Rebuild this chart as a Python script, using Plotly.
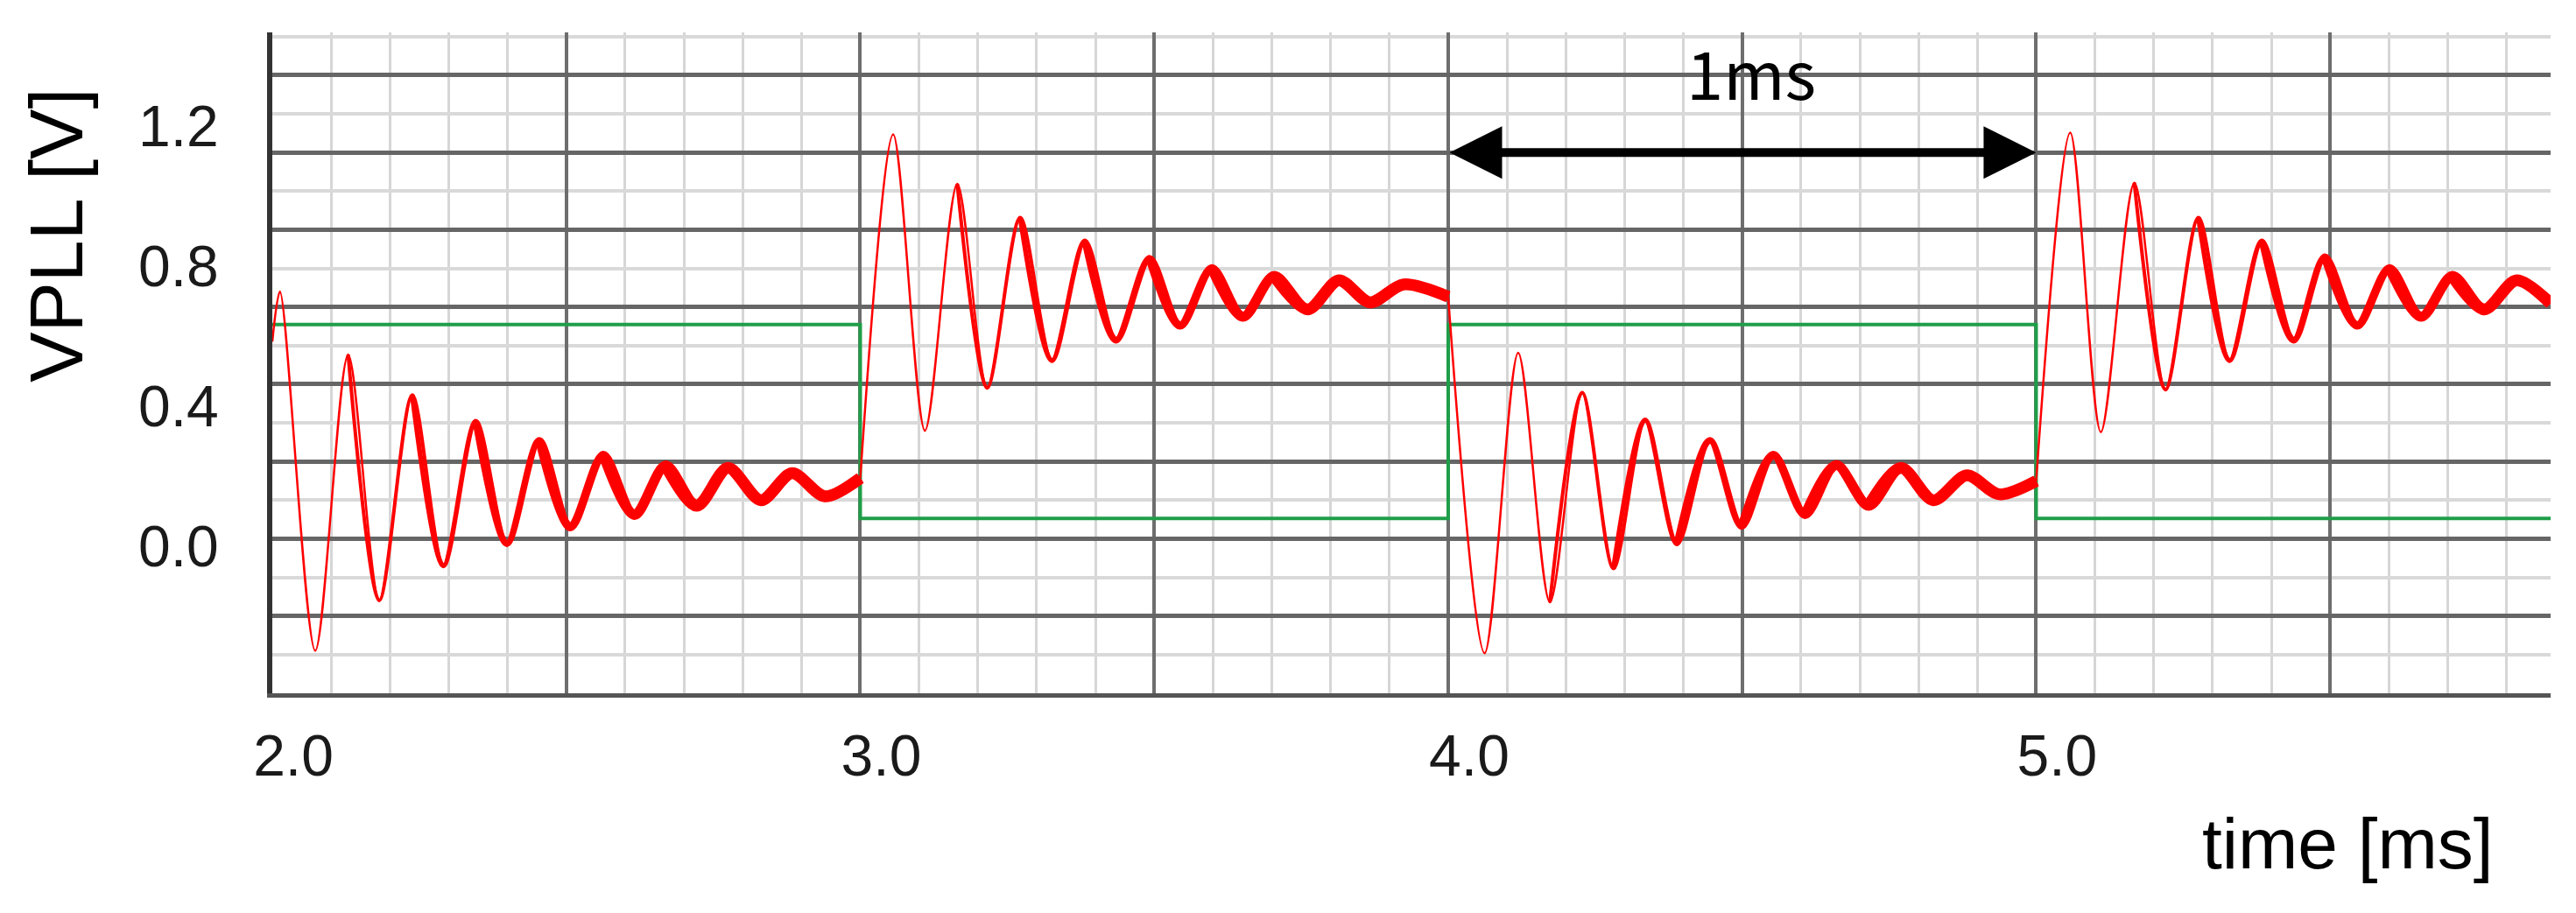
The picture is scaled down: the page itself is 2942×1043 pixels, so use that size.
import plotly.graph_objects as go

# ---------------- data ----------------
# V_PLL (red): damped response after each step; time in ms, value in V
red_t = [
    2.000, 2.013, 2.073, 2.129, 2.182, 2.238, 2.291, 2.346, 2.399, 2.454,
    2.507, 2.563, 2.616, 2.669, 2.722, 2.775, 2.831, 2.884, 2.940,
    3.000, 3.056, 3.110, 3.165, 3.216, 3.272, 3.326, 3.382, 3.435, 3.492,
    3.544, 3.598, 3.651, 3.704, 3.761, 3.814, 3.867, 3.924,
    4.000, 4.062, 4.119, 4.173, 4.228, 4.281, 4.335, 4.389, 4.445, 4.499,
    4.553, 4.607, 4.660, 4.715, 4.770, 4.825, 4.882, 4.937,
    5.000, 5.058, 5.110, 5.167, 5.220, 5.276, 5.329, 5.384, 5.438, 5.491,
    5.546, 5.601, 5.655, 5.708, 5.762, 5.817, 5.875,
]
red_v = [
    0.584, 0.727, -0.297, 0.547, -0.154, 0.432, -0.055, 0.357, 0.008, 0.303,
    0.055, 0.261, 0.090, 0.231, 0.116, 0.224, 0.132, 0.209, 0.143,
    0.195, 1.175, 0.330, 1.034, 0.452, 0.938, 0.530, 0.871, 0.588, 0.822,
    0.630, 0.793, 0.655, 0.771, 0.676, 0.759, 0.696, 0.747,
    0.712, -0.304, 0.552, -0.159, 0.439, -0.063, 0.361, 0.008, 0.303, 0.057,
    0.261, 0.090, 0.232, 0.116, 0.224, 0.132, 0.203, 0.149,
    0.187, 1.180, 0.326, 1.037, 0.447, 0.938, 0.530, 0.871, 0.588, 0.826,
    0.630, 0.793, 0.655, 0.771, 0.676, 0.759, 0.693,
]

# control signal (green square wave): level changes at these times
green_t = [2.0, 3.0, 4.0, 5.0, 5.875]
green_v = [0.633, 0.080, 0.633, 0.080, 0.080]

# "1ms" marker (double arrow between two edges)
arrow_t = [4.0, 5.0]
arrow_v = 1.123
arrow_label = "1ms"
arrow_label_t = 4.515
arrow_label_v = 1.355

# tick labels
x_tick_vals = [2.0, 3.0, 4.0, 5.0]
x_half_vals = [2.5, 3.5, 4.5, 5.5]
y_tick_vals = [0.0, 0.4, 0.8, 1.2]
y_tick_labels = ["0.0", "0.4", "0.8", "1.2"]
x_title = "time [ms]"
y_title = "VPLL [V]"

# ---------------- style ----------------
FONT = "Liberation Sans, Arial, Helvetica, sans-serif"
GRID_STEP = 0.1101          # spacing of the simulator's horizontal grid (V on the label scale)
GRID_BOTTOM = -0.4183       # bottom grid line
Y_RANGE = [GRID_BOTTOM, GRID_BOTTOM + 17.11 * GRID_STEP]
X_RANGE = [2.0, 5.875]
DARK_H = "#666666"
LIGHT_H = "#d9d9d9"
DARK_V = "#6e6e6e"
LIGHT_V = "#d6d6d6"
# (first half-cycle index after a step, line width): the trace thickens as it settles
RED_GROUPS = [(0, 2.5), (3, 4.0), (5, 5.5), (7, 7.5), (9, 9.5), (11, 11.5), (13, 13.5)]

fig = go.Figure()

# invisible trace that activates the grid axis
fig.add_trace(go.Scatter(x=[None], y=[None], yaxis="y2", mode="lines",
                         showlegend=False, hoverinfo="skip"))

# green square wave
fig.add_trace(go.Scatter(x=green_t, y=green_v, mode="lines",
                         line=dict(color="#1f9e48", width=4, shape="hv"),
                         showlegend=False, hoverinfo="skip"))

# red trace: for every step segment, nested tails of the same spline are
# drawn with growing width so the curve thickens as it settles
n = len(red_t)
seg_first = [next(j for j, tt in enumerate(red_t) if tt >= st - 1e-9) for st in green_t[:-1]]
for s, f in enumerate(seg_first):
    end = seg_first[s + 1] if s + 1 < len(seg_first) else n - 1
    for h0, w in RED_GROUPS:
        a = f + h0
        if a >= end:
            break
        fig.add_trace(go.Scatter(x=red_t[a:end + 1], y=red_v[a:end + 1], mode="lines",
                                 line=dict(color="#ff0000", width=w, shape="spline",
                                           smoothing=0.85),
                                 showlegend=False, hoverinfo="skip"))

# double arrow + label
fig.add_annotation(x=arrow_t[1], y=arrow_v, ax=arrow_t[0], ay=arrow_v,
                   xref="x", yref="y", axref="x", ayref="y", text="",
                   showarrow=True, arrowhead=2, startarrowhead=2, arrowside="end+start",
                   arrowwidth=10, arrowsize=1.2, startarrowsize=1.2, arrowcolor="black")
fig.add_annotation(x=arrow_label_t, y=arrow_label_v, xref="x", yref="y",
                   text=arrow_label, showarrow=False,
                   font=dict(family="Noto Sans CJK JP, Liberation Sans Narrow, sans-serif",
                             size=76, color="black"))

# axis titles
fig.add_annotation(x=-0.0949, y=0.693, xref="paper", yref="paper", text=y_title,
                   textangle=-90, showarrow=False, xanchor="center", yanchor="middle",
                   font=dict(family=FONT, size=86, color="black"))
fig.add_annotation(x=0.911, y=-0.2275, xref="paper", yref="paper", text=x_title,
                   showarrow=False, xanchor="center", yanchor="middle",
                   font=dict(family=FONT, size=82, color="black"))

label_alias = {f"{v:.1f}": " " for v in x_half_vals}

fig.update_layout(
    width=2942, height=1043, autosize=False,
    margin=dict(l=311, r=29, t=37, b=251, pad=0),
    paper_bgcolor="white", plot_bgcolor="white",
    showlegend=False,
    xaxis=dict(range=X_RANGE, tickmode="linear", tick0=x_tick_vals[0], dtick=0.5,
               tickformat=".1f", labelalias=label_alias,
               showgrid=True, gridcolor=DARK_V, gridwidth=3.5,
               minor=dict(tickmode="linear", tick0=x_tick_vals[0], dtick=0.1, showgrid=True,
                          gridcolor=LIGHT_V, gridwidth=3),
               showline=True, linecolor="#555555", linewidth=5, zeroline=False,
               ticks="", tickfont=dict(family=FONT, size=66, color="#1a1a1a"),
               ticklabelstandoff=10, ticklabelshift=24),
    yaxis=dict(range=Y_RANGE, tickmode="array", tickvals=y_tick_vals, ticktext=y_tick_labels,
               showgrid=False, zeroline=False, showline=True, linecolor="#333333",
               linewidth=6, ticks="", tickfont=dict(family=FONT, size=66, color="#1a1a1a"),
               ticklabelstandoff=42),
    yaxis2=dict(range=Y_RANGE, overlaying="y", side="left", showticklabels=False,
                ticks="", tickmode="linear", tick0=GRID_BOTTOM, dtick=2 * GRID_STEP,
                showgrid=True, gridcolor=DARK_H, gridwidth=4.5, zeroline=False,
                showline=False,
                minor=dict(tickmode="linear", tick0=GRID_BOTTOM, dtick=GRID_STEP,
                           showgrid=True, gridcolor=LIGHT_H, gridwidth=4)),
)

fig.write_html("out.html", config={"displayModeBar": False},
               post_script="document.body.style.margin='0';")
